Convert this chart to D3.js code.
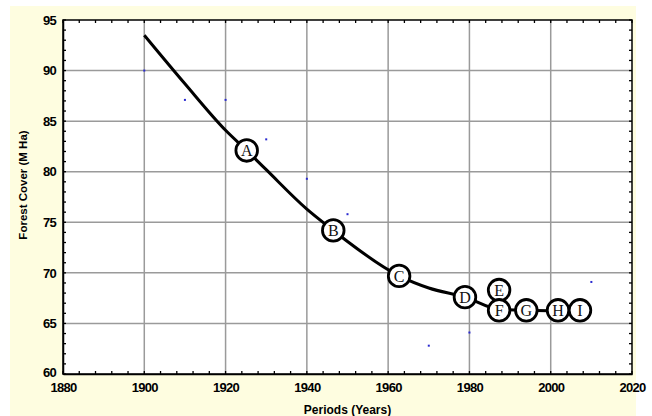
<!DOCTYPE html>
<html><head><meta charset="utf-8">
<script src="https://cdn.jsdelivr.net/npm/d3@7"></script>
<style>body{margin:0;background:#fff}svg{display:block}</style>
</head><body>
<script>
// Data
const curveYears  = [1900, 1910, 1920, 1925.2, 1930, 1940, 1946.5, 1950, 1962.7, 1970, 1978.9, 1987.3, 1995, 2010];
const curveValues = [93.5, 88.7, 84.1, 82.1, 80.2, 76.3, 74.2, 73.1, 69.7, 68.5, 67.6, 66.4, 66.3, 66.2];
const markerLabels = ["A","B","C","D","E","F","G","H","I"];
const markerYears  = [1925.2, 1946.5, 1962.7, 1978.9, 1987.3, 1987.3, 1994, 2001.8, 2007.2];
const markerValues = [82.1, 74.2, 69.7, 67.6, 68.3, 66.3, 66.3, 66.3, 66.3];
const obsYears  = [1900, 1910, 1920, 1930, 1940, 1950, 1970, 1980, 1990, 2010];
const obsValues = [90.0, 87.1, 87.1, 83.2, 79.3, 75.8, 62.8, 64.1, 66.3, 69.1];
const xTicks = [1880, 1900, 1920, 1940, 1960, 1980, 2000, 2020];
const yTicks = [60, 65, 70, 75, 80, 85, 90, 95];

const W = 652, H = 416;
const m = {left: 63, right: 20, top: 20, bottom: 42};
const svg = d3.select("body").append("svg").attr("width", W).attr("height", H);
svg.append("rect").attr("x", 10).attr("y", 6).attr("width", 626).attr("height", 410).attr("fill", "#fefde0");

const x = d3.scaleLinear().domain([1880, 2020]).range([m.left, W - m.right]);
const y = d3.scaleLinear().domain([60, 95]).range([H - m.bottom, m.top]);

svg.append("rect").attr("x", x(1880)).attr("y", y(95)).attr("width", x(2020) - x(1880)).attr("height", y(60) - y(95)).attr("fill", "#fff");

// gridlines
const g = svg.append("g");
g.selectAll(".vg").data(xTicks.slice(1, -1)).join("line")
  .attr("x1", d => x(d)).attr("x2", d => x(d)).attr("y1", y(95)).attr("y2", y(60))
  .attr("stroke", "#9a9a9a").attr("stroke-width", 1.5);
g.selectAll(".hg").data(yTicks.slice(1, -1)).join("line")
  .attr("y1", d => y(d)).attr("y2", d => y(d)).attr("x1", x(1880)).attr("x2", x(2020))
  .attr("stroke", "#9a9a9a").attr("stroke-width", 1.5);

// axes
const fontCss = "font-family:'Liberation Sans',Arial,sans-serif;font-weight:bold;font-size:13px;letter-spacing:-0.7px";
const minorX = d3.range(1880, 2021, 4);
const minorY = d3.range(60, 96, 1);
function styleAxis(sel) {
  sel.select(".domain").attr("stroke", "#000").attr("stroke-width", 1.5);
  sel.selectAll(".tick line").attr("stroke", "#000").attr("stroke-width", 1.5);
}
const xb = svg.append("g").attr("transform", `translate(0,${y(60)})`)
  .call(d3.axisBottom(x).tickValues(xTicks).tickFormat(d3.format("d")).tickSize(0).tickPadding(9));
styleAxis(xb); xb.selectAll("text").attr("style", fontCss).attr("fill", "#000");
const yl = svg.append("g").attr("transform", `translate(${x(1880)},0)`)
  .call(d3.axisLeft(y).tickValues(yTicks).tickSize(0).tickPadding(7));
styleAxis(yl); yl.selectAll("text").attr("style", fontCss).attr("fill", "#000");
yl.selectAll(".tick").filter(d => d === 60).select("text").attr("dy", "0.2em");
// inner ticks on all sides
const tk = svg.append("g").attr("stroke", "#000").attr("stroke-width", 1.3);
tk.selectAll(".tb").data(minorX).join("line").attr("x1", d => x(d)).attr("x2", d => x(d)).attr("y1", y(60)).attr("y2", y(60) - 3);
tk.selectAll(".tt").data(minorX).join("line").attr("x1", d => x(d)).attr("x2", d => x(d)).attr("y1", y(95)).attr("y2", y(95) + 3);
tk.selectAll(".tl").data(minorY).join("line").attr("y1", d => y(d)).attr("y2", d => y(d)).attr("x1", x(1880)).attr("x2", x(1880) + 3);
tk.selectAll(".tr").data(minorY).join("line").attr("y1", d => y(d)).attr("y2", d => y(d)).attr("x1", x(2020)).attr("x2", x(2020) - 3);
svg.append("rect").attr("x", x(1880)).attr("y", y(95)).attr("width", x(2020) - x(1880)).attr("height", y(60) - y(95))
  .attr("fill", "none").attr("stroke", "#000").attr("stroke-width", 1.5);

// observed points
svg.append("g").selectAll("rect").data(obsYears).join("rect")
  .attr("x", (d) => x(d) - 1).attr("y", (d, i) => y(obsValues[i]) - 1).attr("width", 2).attr("height", 2).attr("fill", "#2a2ad0");

// fitted curve
const pts = curveYears.map((d, i) => [d, curveValues[i]]);
svg.append("path").datum(pts)
  .attr("d", d3.line().x(d => x(d[0])).y(d => y(d[1])).curve(d3.curveMonotoneX))
  .attr("fill", "none").attr("stroke", "#000").attr("stroke-width", 3);

// markers
const mk = svg.append("g").selectAll("g").data(markerLabels).join("g")
  .attr("transform", (d, i) => `translate(${x(markerYears[i])},${y(markerValues[i])})`);
mk.append("circle").attr("r", 10.8).attr("fill", "#fff").attr("stroke", "#000").attr("stroke-width", 2.8);
mk.append("text").text(d => d).attr("text-anchor", "middle").attr("dy", "0.36em")
  .attr("style", "font-family:'Liberation Serif','Times New Roman',serif;font-size:16px").attr("fill", "#111");

// axis titles
svg.append("text").attr("x", (x(1880) + x(2020)) / 2).attr("y", 414).attr("text-anchor", "middle")
  .attr("style", "font-family:'Liberation Sans',Arial,sans-serif;font-weight:bold;font-size:12px").text("Periods (Years)");
svg.append("text").attr("transform", "translate(27,185) rotate(-90)").attr("text-anchor", "middle")
  .attr("style", "font-family:'Liberation Sans',Arial,sans-serif;font-weight:bold;font-size:11.5px").text("Forest Cover (M Ha)");
</script>
</body></html>
